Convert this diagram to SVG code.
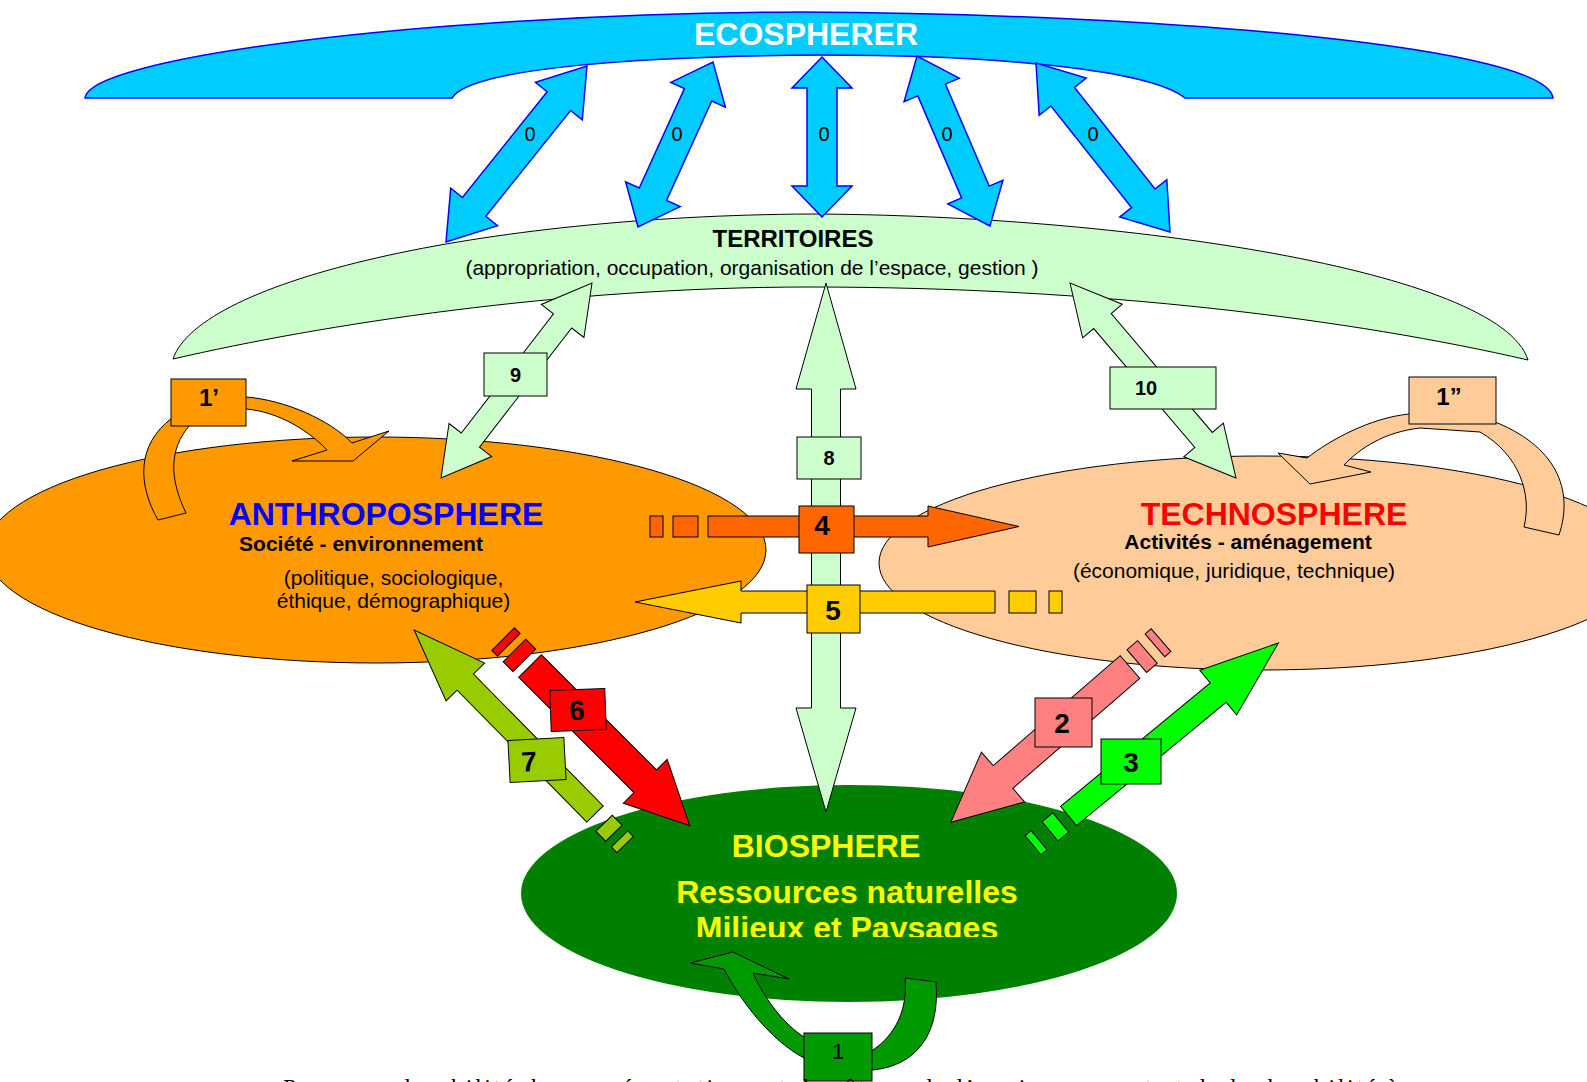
<svg xmlns="http://www.w3.org/2000/svg" width="1587" height="1082" viewBox="0 0 1587 1082">
<defs>
<style>
.t{font-family:'Liberation Sans',Arial,Helvetica,sans-serif}
.b{font-weight:bold}
.blu{fill:#00CCFF;stroke:#0000FF;stroke-width:1.5;stroke-linejoin:miter}
.lg{fill:#CCFFCC;stroke:#000;stroke-width:1}
.k{stroke:#000;stroke-width:1}
.zero{font-family:'Liberation Sans',Arial,sans-serif;font-size:20px;text-anchor:middle;fill:#000}
.num{font-family:'Liberation Sans',Arial,sans-serif;font-weight:bold;font-size:28px;text-anchor:middle;fill:#000}
.nums{font-family:'Liberation Sans',Arial,sans-serif;font-weight:bold;font-size:20px;text-anchor:middle;fill:#000}
.serif{font-family:'Liberation Serif','Times New Roman',serif}
</style>
<clipPath id="clipMil"><rect x="0" y="0" width="1587" height="937"/></clipPath>
<clipPath id="clipPage"><rect x="0" y="0" width="1587" height="1082"/></clipPath>
</defs>
<rect x="0" y="0" width="1587" height="1082" fill="#FFFFFF"/>

<g id="territoires">
<path class="lg" d="M173,359 C200,280 480,216 810,214 C1120,215 1500,270 1528,360 C1355,320 1100,287 810,287 C560,287 320,325 173,359 Z"/>
<text class="t b" x="793" y="247" font-size="24" text-anchor="middle">TERRITOIRES</text>
<text class="t" x="752" y="275" font-size="21" text-anchor="middle">(appropriation, occupation, organisation de l’espace, gestion )</text>
</g>

<g id="ecosphere">
<path class="blu" d="M85,98 C88,58 420,14 800,12 C1180,14 1548,48 1553,98 L1185,98 C1150,70 1000,55 822,55 C640,56 470,68 452,98 Z"/>
<text class="t b" x="806" y="45" font-size="32" fill="#FFFFFF" text-anchor="middle">ECOSPHERER</text>
</g>

<g id="anthroposphere">
<ellipse cx="376" cy="550" rx="390" ry="113" fill="#FF9900" class="k"/>
<text class="t b" x="386" y="525" font-size="32" fill="#0000FF" text-anchor="middle">ANTHROPOSPHERE</text>
<text class="t b" x="361" y="551" font-size="21" text-anchor="middle">Société - environnement</text>
<text class="t" x="393.5" y="585" font-size="21" text-anchor="middle">(politique, sociologique,</text>
<text class="t" x="393.5" y="608" font-size="21" text-anchor="middle">éthique, démographique)</text>
</g>

<g id="technosphere">
<ellipse cx="1262" cy="563" rx="383" ry="107" fill="#FFCC99" class="k"/>
<text class="t b" x="1274" y="525" font-size="32" fill="#FF0000" text-anchor="middle">TECHNOSPHERE</text>
<text class="t b" x="1248" y="549" font-size="21" text-anchor="middle">Activités - aménagement</text>
<text class="t" x="1234" y="578" font-size="21" text-anchor="middle">(économique, juridique, technique)</text>
</g>

<g id="biosphere">
<ellipse cx="849" cy="893.5" rx="328" ry="108.5" fill="#008000"/>
<text class="t b" x="826" y="857" font-size="32" fill="#FFFF00" text-anchor="middle">BIOSPHERE</text>
<text class="t b" x="847" y="903" font-size="32" fill="#FFFF00" text-anchor="middle">Ressources naturelles</text>
<text class="t b" x="847" y="939" font-size="32" fill="#FFFF00" text-anchor="middle" clip-path="url(#clipMil)">Milieux et Paysages</text>
</g>

<g id="connectors">
<g id="eco-links">
<polygon class="blu" transform="translate(516.5,154) rotate(-51.3)" points="-112.75,0 -67.75,-30 -67.75,-15 67.75,-15 67.75,-30 112.75,0 67.75,30 67.75,15 -67.75,15 -67.75,30"/>
<polygon class="blu" transform="translate(675.5,144.5) rotate(-65.56)" points="-90.6,0 -54.6,-30 -54.6,-15 54.6,-15 54.6,-30 90.6,0 54.6,30 54.6,15 -54.6,15 -54.6,30"/>
<polygon class="blu" transform="translate(822,137) rotate(-90)" points="-80,0 -49,-30 -49,-15 49,-15 49,-30 80,0 49,30 49,15 -49,15 -49,30"/>
<polygon class="blu" transform="translate(953.5,141) rotate(-113.2)" points="-92.5,0 -55.5,-30 -55.5,-15 55.5,-15 55.5,-30 92.5,0 55.5,30 55.5,15 -55.5,15 -55.5,30"/>
<polygon class="blu" transform="translate(1103,147.5) rotate(-128.4)" points="-107.85,0 -64.85,-30 -64.85,-15 64.85,-15 64.85,-30 107.85,0 64.85,30 64.85,15 -64.85,15 -64.85,30"/>
<text class="zero" x="530" y="141">0</text>
<text class="zero" x="677" y="141">0</text>
<text class="zero" x="824" y="141">0</text>
<text class="zero" x="947" y="141">0</text>
<text class="zero" x="1093" y="141">0</text>
</g>

<g id="link-9">
<polygon class="lg" transform="translate(516.5,380.5) rotate(-52.25)" points="-123.3,0 -75.3,-27 -75.3,-11.5 75.3,-11.5 75.3,-27 123.3,0 75.3,27 75.3,11.5 -75.3,11.5 -75.3,27"/>
<rect class="lg" x="484" y="353" width="63" height="43"/>
<text class="nums" x="515.5" y="382">9</text>
</g>

<g id="link-10">
<polygon class="lg" transform="translate(1153,380.5) rotate(-130.4)" points="-128,0 -78,-26 -78,-11.5 78,-11.5 78,-26 128,0 78,26 78,11.5 -78,11.5 -78,26"/>
<rect class="lg" x="1110" y="367" width="106" height="42"/>
<text class="nums" x="1146" y="395">10</text>
</g>

<g id="link-8">
<polygon class="lg" points="826,283 856,389 840.5,389 840.5,708 856,708 826,812 796,708 811.5,708 811.5,389 796,389"/>
<rect class="lg" x="797" y="437" width="64" height="42"/>
<text class="nums" x="829" y="465">8</text>
</g>

<g id="link-4">
<rect x="650" y="516" width="13" height="21" fill="#FF6600" class="k"/>
<rect x="673" y="516" width="25" height="21" fill="#FF6600" class="k"/>
<polygon fill="#FF6600" class="k" points="708,516 928,516 928,506 1019,526.5 928,547 928,537 708,537"/>
<rect x="799" y="506" width="55" height="47" fill="#FF6600" class="k"/>
<text class="num" x="822" y="535">4</text>
</g>

<g id="link-5">
<rect x="1049" y="591" width="13" height="22" fill="#FFCC00" class="k"/>
<rect x="1009" y="591" width="27" height="22" fill="#FFCC00" class="k"/>
<polygon fill="#FFCC00" class="k" points="995,591 741,591 741,581 635,602 741,623 741,613 995,613"/>
<rect x="807" y="585" width="53" height="48" fill="#FFCC00" class="k"/>
<text class="num" x="833" y="620">5</text>
</g>

<g id="link-6" transform="translate(530,666) rotate(45)">
<rect x="-38" y="-16" width="8" height="32" fill="#FF0000" class="k"/>
<rect x="-22" y="-16" width="14" height="32" fill="#FF0000" class="k"/>
<polygon fill="#FF0000" class="k" points="0,-16 163,-16 163,-31 226,0 163,31 163,16 0,16"/>
</g>
<g id="label-6" transform="translate(578,710) rotate(-2)">
<rect x="-27.5" y="-20.5" width="55" height="41" fill="#FF0000" class="k"/>
<text class="num" x="-1" y="10">6</text>
</g>

<g id="link-7" transform="translate(595,814) rotate(-134.5)">
<rect x="-43" y="-11.5" width="8" height="23" fill="#99CC00" class="k"/>
<rect x="-27" y="-11.5" width="14" height="23" fill="#99CC00" class="k"/>
<polygon fill="#99CC00" class="k" points="0,-11.5 185,-11.5 185,-27 258,0 185,27 185,11.5 0,11.5"/>
</g>
<g id="label-7" transform="translate(537,760) rotate(-3)">
<rect x="-28" y="-21" width="56" height="42" fill="#99CC00" class="k"/>
<text class="num" x="-8" y="11">7</text>
</g>

<g id="link-2" transform="translate(1130,667) rotate(139.1)">
<rect x="-41" y="-15" width="8" height="30" fill="#FF8080" class="k"/>
<rect x="-23" y="-15" width="14" height="30" fill="#FF8080" class="k"/>
<polygon fill="#FF8080" class="k" points="0,-15 168,-15 168,-33 237,0 168,33 168,15 0,15"/>
</g>
<g id="label-2">
<rect x="1035" y="698" width="57" height="49" fill="#FF8080" class="k"/>
<text class="num" x="1062" y="733">2</text>
</g>

<g id="link-3" transform="translate(1068.5,816) rotate(-39.5)">
<rect x="-46" y="-12.5" width="8" height="25" fill="#00FF00" class="k"/>
<rect x="-24" y="-12.5" width="14" height="25" fill="#00FF00" class="k"/>
<polygon fill="#00FF00" class="k" points="0,-12.5 194,-12.5 194,-29 272,0 194,29 194,12.5 0,12.5"/>
</g>
<g id="label-3">
<rect x="1101" y="739" width="60" height="45" fill="#00FF00" class="k"/>
<text class="num" x="1131" y="772">3</text>
</g>

<g id="loop-1a">
<path fill="#FF9900" class="k" d="M158,520 C138,485 136,445 172,418 L246,397 C285,400 330,420 352,443 L389,431 L353,461 L292,461 L327,450 C310,432 280,412 246,409 L190,425 C168,450 170,480 186,513 Z"/>
<rect x="171" y="379" width="75" height="47" fill="#FF9900" class="k"/>
<text class="t b" x="209" y="406" font-size="24" text-anchor="middle">1’</text>
</g>

<g id="loop-1b">
<path fill="#FFCC99" class="k" d="M1559,535 C1574,490 1557,445 1490,420 L1409,414 C1370,418 1330,440 1307,458 L1278,453 L1310,484 L1371,472 L1344,465 C1360,448 1385,432 1420,428 L1480,432 C1520,455 1532,495 1524,527 Z"/>
<rect x="1409" y="377" width="87" height="47" fill="#FFCC99" class="k"/>
<text class="t b" x="1449" y="405" font-size="24" text-anchor="middle">1”</text>
</g>

<g id="loop-1">
<path fill="#009900" class="k" d="M936,982 C940,1030 920,1065 873,1070 L804,1058 C770,1040 740,1000 724,969 L690,963 L733,952 L789,979 L753,973 C765,1000 785,1025 804,1037 L873,1050 C895,1035 908,1010 905,978 Z"/>
<rect x="804" y="1033" width="68" height="48" fill="#009900" class="k"/>
<text class="t" x="838" y="1059" font-size="22" text-anchor="middle">1</text>
</g>
</g>

<text class="serif" x="283" y="1095" font-size="24" textLength="1115" clip-path="url(#clipPage)">Pour une durabilité des représentations et des êtres, de l’environnement et de la durabilité à</text>
</svg>
